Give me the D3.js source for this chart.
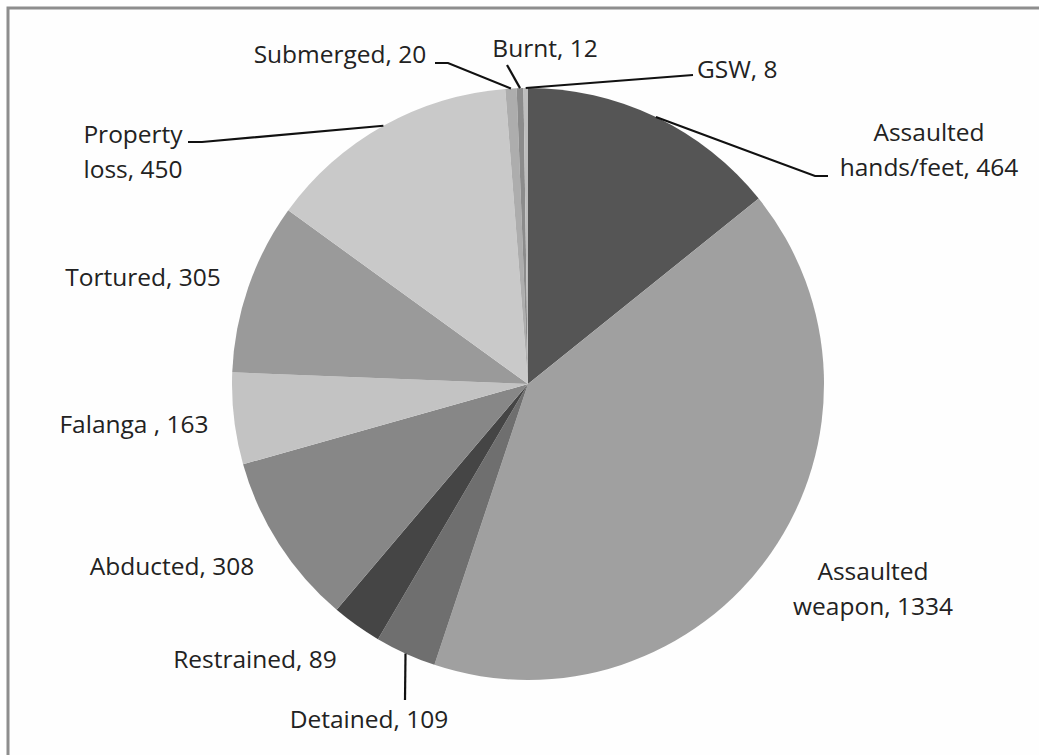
<!DOCTYPE html>
<html><head><meta charset="utf-8">
<script src="https://cdn.jsdelivr.net/npm/d3@7"></script>
<style>html,body{margin:0;padding:0;background:#fff;overflow:hidden}</style>
</head><body>
<svg id="c" width="1039" height="755"></svg>
<script>
// ---- data ----
const categories = ["Assaulted hands/feet","Assaulted weapon","Detained","Restrained","Abducted","Falanga ","Tortured","Property loss","Submerged","Burnt","GSW"];
const values = [464,1334,109,89,308,163,305,450,20,12,8];
const labelLines = [["Assaulted","hands/feet, 464"],["Assaulted","weapon, 1334"],["Detained, 109"],["Restrained, 89"],["Abducted, 308"],["Falanga , 163"],["Tortured, 305"],["Property","loss, 450"],["Submerged, 20"],["Burnt, 12"],["GSW, 8"]];
const fills = ["#555555","#a0a0a0","#6f6f6f","#454545","#878787","#c3c3c3","#9a9a9a","#c9c9c9","#adadad","#8c8c8c","#bdbdbd"];

// ---- layout (label anchors relative to pie centre, px) ----
const cx = 528, cy = 384, R = 296;
const labelLayout = [
  {x: 401, y: -243, anchor: "middle", leader: [[300,-208],[287,-208]]},
  {x: 345, y: 196, anchor: "middle"},
  {x: -159, y: 344, anchor: "middle", leader: [[-123,316]]},
  {x: -273, y: 284, anchor: "middle"},
  {x: -356, y: 191, anchor: "middle"},
  {x: -394, y: 49, anchor: "middle"},
  {x: -385, y: -98, anchor: "middle"},
  {x: -395, y: -241, anchor: "middle", leader: [[-340,-242],[-326,-242]]},
  {x: -188, y: -321, anchor: "middle", leader: [[-93,-321],[-80,-321]]},
  {x: 17, y: -327, anchor: "middle", leader: [[-21,-319]]},
  {x: 169, y: -306, anchor: "start", leader: [[165,-309]]}
];

const svg = d3.select("#c");
svg.append("rect").attr("x",8).attr("y",8).attr("width",1100).attr("height",800)
  .attr("fill","#fefefe").attr("stroke","#8e8e8e").attr("stroke-width",3);

const g = svg.append("g").attr("transform",`translate(${cx},${cy})`);
const pie = d3.pie().sort(null).value(d=>d.v);
const data = categories.map((c,i)=>({c, v: values[i], i}));
const arcs = pie(data);
const arc = d3.arc().innerRadius(0).outerRadius(R);

g.selectAll("path.slice").data(arcs).join("path")
  .attr("class","slice").attr("d",arc).attr("fill",(d,i)=>fills[i]);

// leader lines: from slice mid-point on the rim to the label
arcs.forEach((d,i)=>{
  const L = labelLayout[i];
  if(!L.leader) return;
  const a = (d.startAngle+d.endAngle)/2;
  const p = [R*Math.sin(a), -R*Math.cos(a)];
  const pts = [p, ...L.leader.slice().reverse()];
  g.append("path").attr("d", d3.line()(pts))
    .attr("fill","none").attr("stroke","#111").attr("stroke-width",2.2);
});

// labels
arcs.forEach((d,i)=>{
  const L = labelLayout[i];
  const lines = labelLines[i];
  const t = g.append("text").attr("x",L.x).attr("y",L.y)
    .attr("text-anchor",L.anchor)
    .attr("font-family","'Open Sans', 'Liberation Sans', sans-serif")
    .attr("font-size",24.5).attr("fill","#222");
  lines.forEach((ln,k)=>{
    t.append("tspan").attr("x",L.x).attr("dy", k===0?0:35).text(ln);
  });
});
</script>
</body></html>
